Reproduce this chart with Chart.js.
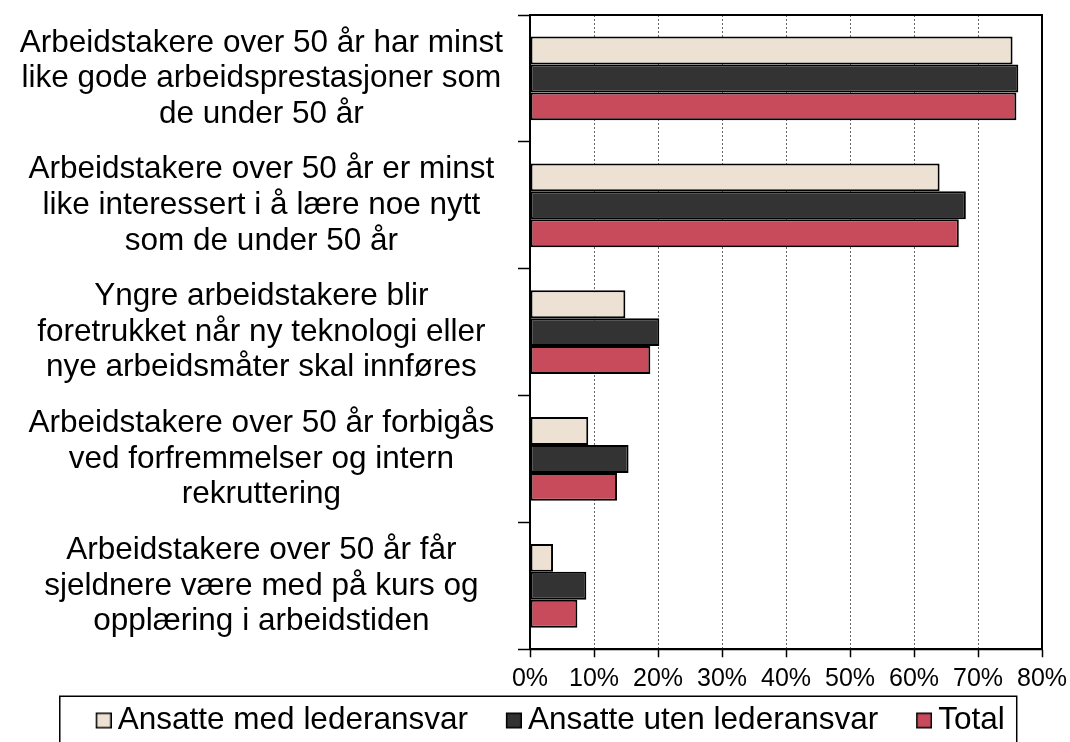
<!DOCTYPE html>
<html>
<head>
<meta charset="utf-8">
<script src="https://cdn.jsdelivr.net/npm/chart.js@4"></script>
<style>
  html, body { margin: 0; padding: 0; background: #fff; width: 1070px; height: 742px; overflow: hidden; }
  #clip { width: 1070px; height: 742px; overflow: hidden; }
  #wrap { width: 1078px; height: 760px; position: relative; }
</style>
</head>
<body>
<div id="clip"><div id="wrap"><canvas id="chart"></canvas></div></div>
<script>
// categories (multi-line labels)
const categories = [
  ['Arbeidstakere over 50 år har minst', 'like gode arbeidsprestasjoner som', 'de under 50 år'],
  ['Arbeidstakere over 50 år er minst', 'like interessert i å lære noe nytt', 'som de under 50 år'],
  ['Yngre arbeidstakere blir', 'foretrukket når ny teknologi eller', 'nye arbeidsmåter skal innføres'],
  ['Arbeidstakere over 50 år forbigås', 'ved forfremmelser og intern', 'rekruttering'],
  ['Arbeidstakere over 50 år får', 'sjeldnere være med på kurs og', 'opplæring i arbeidstiden']
];

const seriesNames = ['Ansatte med lederansvar', 'Ansatte uten lederansvar', 'Total'];

// values in %
const medLederansvar = [75.4, 64.0, 14.9, 9.1, 3.6];
const utenLederansvar = [76.3, 68.1, 20.2, 15.4, 8.8];
const total = [76.0, 67.0, 18.8, 13.6, 7.4];

const xTicks = [0, 10, 20, 30, 40, 50, 60, 70, 80];

const colors = ['#ECE1D2', '#333333', '#C84B5C'];
const FONT = "'Liberation Sans', Arial, sans-serif";
const PLOT_RIGHT = 1042;

// legend swatch: square sits at the right end of the image so the gap to the text is small
function swatch(fill) {
  const c = document.createElement('canvas');
  c.width = 48; c.height = 18;
  const g = c.getContext('2d');
  g.fillStyle = fill;
  g.fillRect(32.75, 1.75, 14.5, 14.5);
  g.strokeStyle = '#000';
  g.lineWidth = 1.5;
  g.strokeRect(32.75, 1.75, 14.5, 14.5);
  return c;
}
const swatches = colors.map(swatch);

// box around plot area + legend frame
const frames = {
  id: 'frames',
  afterDraw(chart) {
    const { ctx, chartArea: a, legend } = chart;
    ctx.save();
    ctx.strokeStyle = '#000';
    ctx.lineWidth = 2;
    ctx.strokeRect(a.left, a.top, a.right - a.left, a.bottom - a.top);
    if (legend && legend.legendHitBoxes && legend.legendHitBoxes.length) {
      const hb = legend.legendHitBoxes;
      const l = Math.min(...hb.map(h => h.left)) - 13.5;
      const r = Math.max(...hb.map(h => h.left + h.width)) + 12;
      const t = hb[0].top - 8.5;
      ctx.lineWidth = 1.5;
      ctx.strokeRect(l, t, r - l, 100);
    }
    ctx.restore();
  }
};

new Chart(document.getElementById('chart'), {
  type: 'bar',
  data: {
    labels: categories,
    datasets: [
      { label: seriesNames[0], data: medLederansvar, backgroundColor: colors[0] },
      { label: seriesNames[1], data: utenLederansvar, backgroundColor: colors[1] },
      { label: seriesNames[2], data: total, backgroundColor: colors[2] }
    ]
  },
  options: {
    indexAxis: 'y',
    responsive: true,
    maintainAspectRatio: false,
    animation: false,
    datasets: {
      bar: {
        borderColor: '#000',
        borderWidth: 2,
        borderSkipped: false,
        categoryPercentage: 0.66,
        barPercentage: 1.0
      }
    },
    layout: { padding: { top: 15, right: 0, bottom: 13.75, left: 0 } },
    scales: {
      x: {
        min: 0,
        max: 80,
        afterBuildTicks: s => { s.ticks = xTicks.map(v => ({ value: v })); },
        afterFit: s => { s.height = 40; s.paddingRight = s.chart.width - PLOT_RIGHT; },
        ticks: {
          callback: v => v + '%',
          color: '#000',
          padding: 7,
          maxRotation: 0,
          font: { family: FONT, size: 25 }
        },
        grid: {
          color: '#666',
          lineWidth: 1,
          tickColor: '#000',
          tickLength: 8,
          tickWidth: 1.5
        },
        border: { color: '#000', width: 2, dash: [2, 2] }
      },
      y: {
        afterFit: s => { s.width = 530; s.paddingTop = 0; s.paddingBottom = 0; },
        ticks: {
          color: '#000',
          crossAlign: 'center',
          padding: 15,
          font: { family: FONT, size: 31.5, lineHeight: 1.13 }
        },
        grid: {
          drawOnChartArea: false,
          tickColor: '#000',
          tickLength: 12,
          tickWidth: 1.5
        },
        border: { color: '#000', width: 2 }
      }
    },
    plugins: {
      tooltip: { enabled: false },
      legend: {
        position: 'bottom',
        labels: {
          color: '#000',
          usePointStyle: true,
          pointStyleWidth: 28.75,
          padding: 15.5,
          font: { family: FONT, size: 31.5 },
          generateLabels: chart => {
            const items = Chart.defaults.plugins.legend.labels.generateLabels(chart);
            items.forEach((it, i) => { it.pointStyle = swatches[i]; });
            return items;
          }
        }
      }
    }
  },
  plugins: [frames]
});
</script>
</body>
</html>
